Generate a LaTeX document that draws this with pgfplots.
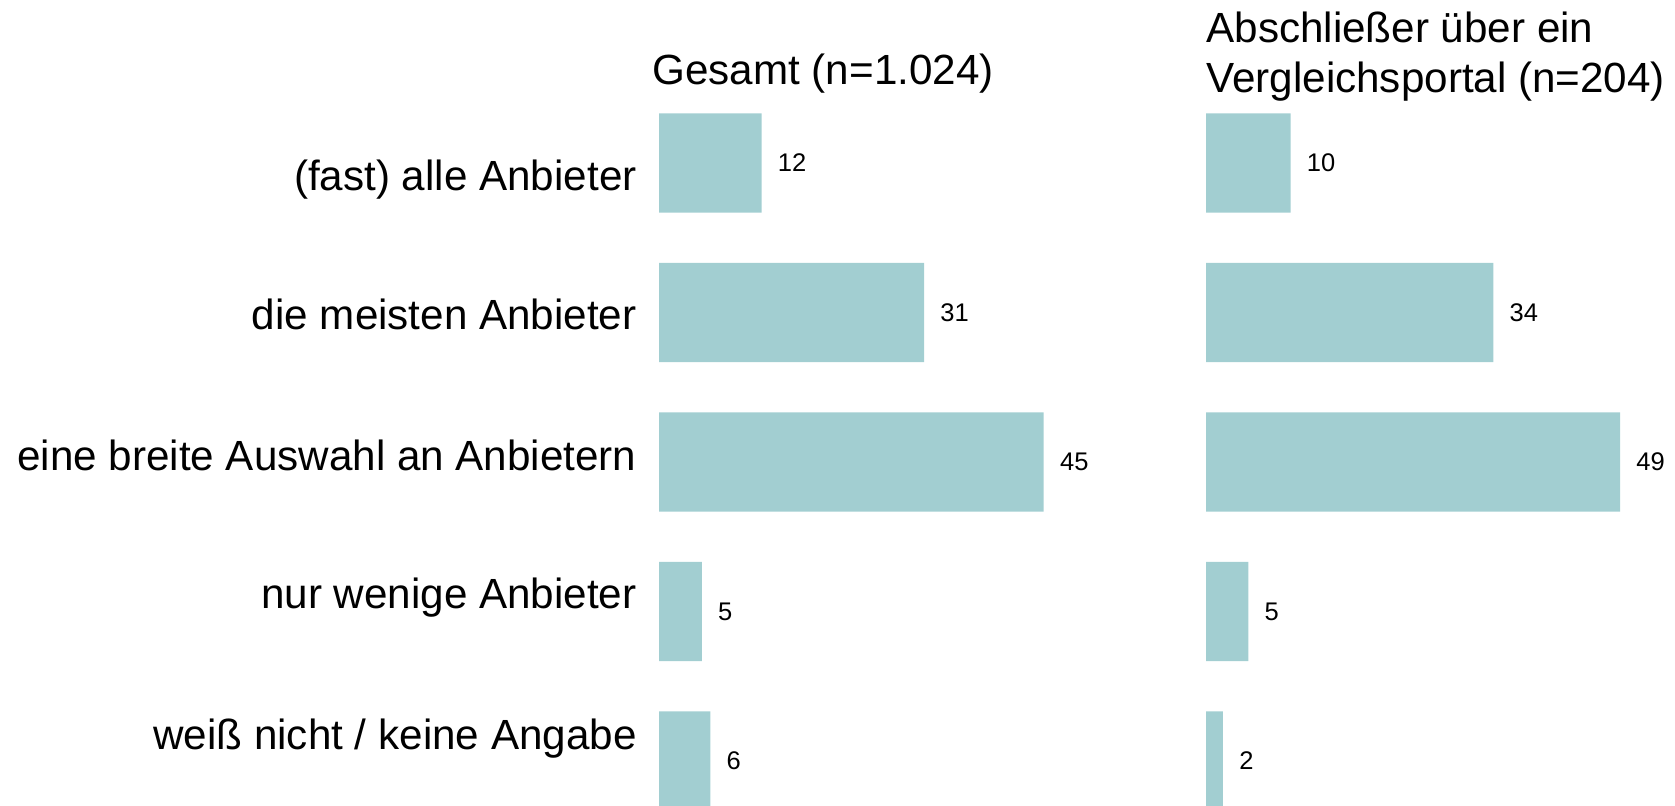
\documentclass[border=0pt]{standalone}
\usepackage{fontspec}
\setmainfont{Liberation Sans}
\usepackage{pgfplots}
\pgfplotsset{compat=1.18}
\definecolor{barc}{RGB}{162,206,209}
\begin{document}
\begin{tikzpicture}
\useasboundingbox (0,0) rectangle (837.5pt,-403pt);
\clip (0,0) rectangle (837.5pt,-403pt);
\pgfplotsset{
  panel/.style={
    xbar, scale only axis, xmin=0, xmax=50, ymin=-0.5, ymax=4.5, y dir=reverse,
    height=373.75pt, bar width=49.65pt, anchor=north west,
    axis line style={draw=none}, xtick=\empty, major tick length=0pt,
    /pgf/number format/assume math mode=true,
    nodes near coords,
    nodes near coords style={anchor=west, inner sep=0pt, xshift=8pt, text=black, font=\fontsize{12.75pt}{15pt}\selectfont},
  }
}
\begin{axis}[panel, width=213.75pt, at={(329.5pt,-44.125pt)},
  ytick={0.181,1.117,2.060,2.983,3.920},
  yticklabels={(fast) alle Anbieter, die meisten Anbieter, eine breite Auswahl an Anbietern, nur wenige Anbieter, weiß nicht / keine Angabe},
  yticklabel style={anchor=base east, inner sep=0pt, xshift=-11pt, text=black, font=\fontsize{21.1pt}{25pt}\selectfont}]
\addplot[fill=barc, draw=none] coordinates {(12,0) (31,1) (45,2) (5,3) (6,4)};
\end{axis}
\begin{axis}[panel, width=211.25pt, at={(603pt,-44.125pt)}, ytick=\empty]
\addplot[fill=barc, draw=none] coordinates {(10,0) (34,1) (49,2) (5,3) (2,4)};
\end{axis}
\node[anchor=base west, inner sep=0pt, font=\fontsize{21.1pt}{25pt}\selectfont] at (326pt,-42.5pt) {Gesamt (n=1.024)};
\node[anchor=base west, inner sep=0pt, font=\fontsize{21.1pt}{25pt}\selectfont] at (603pt,-21.35pt) {Abschließer über ein};
\node[anchor=base west, inner sep=0pt, font=\fontsize{21.1pt}{25pt}\selectfont] at (603pt,-46.35pt) {Vergleichsportal (n=204)};
\end{tikzpicture}
\end{document}
